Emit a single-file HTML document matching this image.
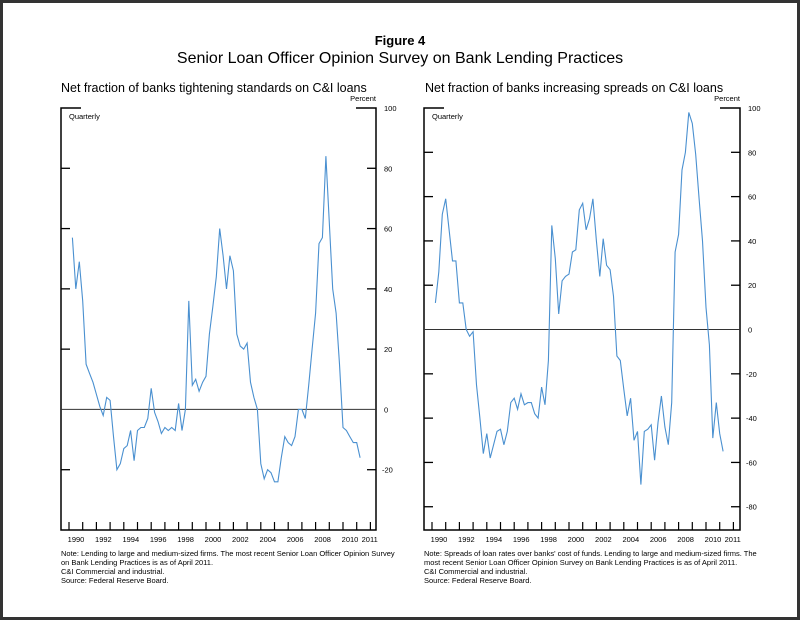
<!DOCTYPE html>
<html><head><meta charset="utf-8"><style>
body{margin:0;background:#fff;}
svg{display:block;font-family:"Liberation Sans",Arial,sans-serif;}
</style></head><body>
<svg id="s" width="800" height="620" viewBox="0 0 800 620">
<rect x="1.5" y="1.5" width="797" height="617" fill="#fff" stroke="#333" stroke-width="3"/>
<text x="400" y="45" text-anchor="middle" font-size="13" font-weight="bold">Figure 4</text>
<text x="400" y="63" text-anchor="middle" font-size="16">Senior Loan Officer Opinion Survey on Bank Lending Practices</text>
<text x="61" y="92" font-size="12.5">Net fraction of banks tightening standards on C&amp;I loans</text>
<text x="425" y="92" font-size="12.5">Net fraction of banks increasing spreads on C&amp;I loans</text>
<g id="L"></g><g id="R"></g>
<g font-size="7.5">
<text x="61" y="556">Note: Lending to large and medium-sized firms. The most recent Senior Loan Officer Opinion Survey</text>
<text x="61" y="565">on Bank Lending Practices is as of April 2011.</text>
<text x="61" y="574">C&amp;I  Commercial and industrial.</text>
<text x="61" y="583">Source: Federal Reserve Board.</text>
</g>
<g font-size="7.5">
<text x="424" y="556">Note: Spreads of loan rates over banks' cost of funds. Lending to large and medium-sized firms. The</text>
<text x="424" y="565">most recent Senior Loan Officer Opinion Survey on Bank Lending Practices is as of April 2011.</text>
<text x="424" y="574">C&amp;I  Commercial and industrial.</text>
<text x="424" y="583">Source: Federal Reserve Board.</text>
</g>
</svg>
<script>
const years=[1990,1992,1994,1996,1998,2000,2002,2004,2006,2008,2010,2011];
const standards=[57,40,49,36,15,12,9,5,1,-2,4,3,-9,-20,-18,-13,-12,-7,-17,-7,-6,-6,-3,7,-1,-4,-8,-6,-7,-6,-7,2,-7,0,36,8,10,6,9,11,25,34,44,60,51,40,51,46,25,21,20,22,9,4,0,-18,-23,-20,-21,-24,-24,-16,-9,-11,-12,-9,0,0,-3,8,20,32,55,57,84,62,40,32,15,-6,-7,-9,-11,-11,-16];
const spreads=[12,26,52,59,45,31,31,12,12,0,-3,-1,-25,-40,-56,-47,-58,-52,-46,-45,-52,-46,-33,-31,-36,-29,-34,-33,-33,-38,-40,-26,-34,-14,47,32,7,22,24,25,35,36,54,57,45,50,59,40,24,41,29,27,15,-12,-14,-27,-39,-31,-50,-46,-70,-46,-45,-43,-59,-42,-30,-44,-52,-33,35,43,72,80,98,93,79,59,40,10,-7,-49,-33,-47,-55];
const leftTicks=[100,80,60,40,20,0,-20];
const rightTicks=[100,80,60,40,20,0,-20,-40,-60,-80];
const NS="http://www.w3.org/2000/svg";
function mk(g,tag,a){const e=document.createElementNS(NS,tag);for(const k in a)e.setAttribute(k,a[k]);g.appendChild(e);return e;}
function draw(gid,x0,x1,top,bot,vmin,vmax,ticks,data,tag){
  const g=document.getElementById(gid);
  
  
  const y=v=>bot-(v-vmin)/(vmax-vmin)*(bot-top);
  const yr=t=>x0+8+(t-1990)*13.7;
  const xq=i=>yr(1990)+3.4+i*3.425;
  let e=mk(g,'path',{d:`M${x0+20},${top}H${x0}V${bot}H${x1}V${top}H${x1-20}`,fill:'none',stroke:'#000','stroke-width':1.5});
  
  
  e=mk(g,'text',{x:x1,y:top-7,'font-size':7.5,'text-anchor':'end'});e.textContent='Percent';
  
  
  e=mk(g,'text',{x:x0+8,y:top+11,'font-size':7.5});e.textContent='Quarterly';
  
  
  ticks.forEach(t=>{const yy=y(t);
    if(t!==vmax&&t!==0){mk(g,'line',{x1:x0,x2:x0+9,y1:yy,y2:yy,stroke:'#000','stroke-width':1.3});
    mk(g,'line',{x1:x1-9,x2:x1,y1:yy,y2:yy,stroke:'#000','stroke-width':1.3});}
    e=mk(g,'text',{x:x1+(t<0?6:8),y:yy+3,'font-size':7.5});e.textContent=t;
    
    
  });
  e=mk(g,'line',{x1:x0,x2:x1,y1:y(0),y2:y(0),stroke:'#333','stroke-width':1});
  
  
  for(let t=1990;t<=2012;t++){mk(g,'line',{x1:yr(t),x2:yr(t),y1:bot,y2:bot-8,stroke:'#000','stroke-width':1.2});}
  years.forEach(t=>{e=mk(g,'text',{x:t===2011?yr(t)+13:yr(t)+7,y:bot+12,'font-size':7.5,'text-anchor':'middle'});e.textContent=t;
    
    });
  e=mk(g,'polyline',{points:data.map((v,i)=>xq(i).toFixed(1)+','+y(v).toFixed(1)).join(' '),fill:'none',stroke:'#4a90d0','stroke-width':1.1});
  
  
}
draw('L',61,376,108,530,-40,100,leftTicks,standards,'standards');
draw('R',424,740,108,530,-90.5,100,rightTicks,spreads,'spreads');
</script>
</body></html>
